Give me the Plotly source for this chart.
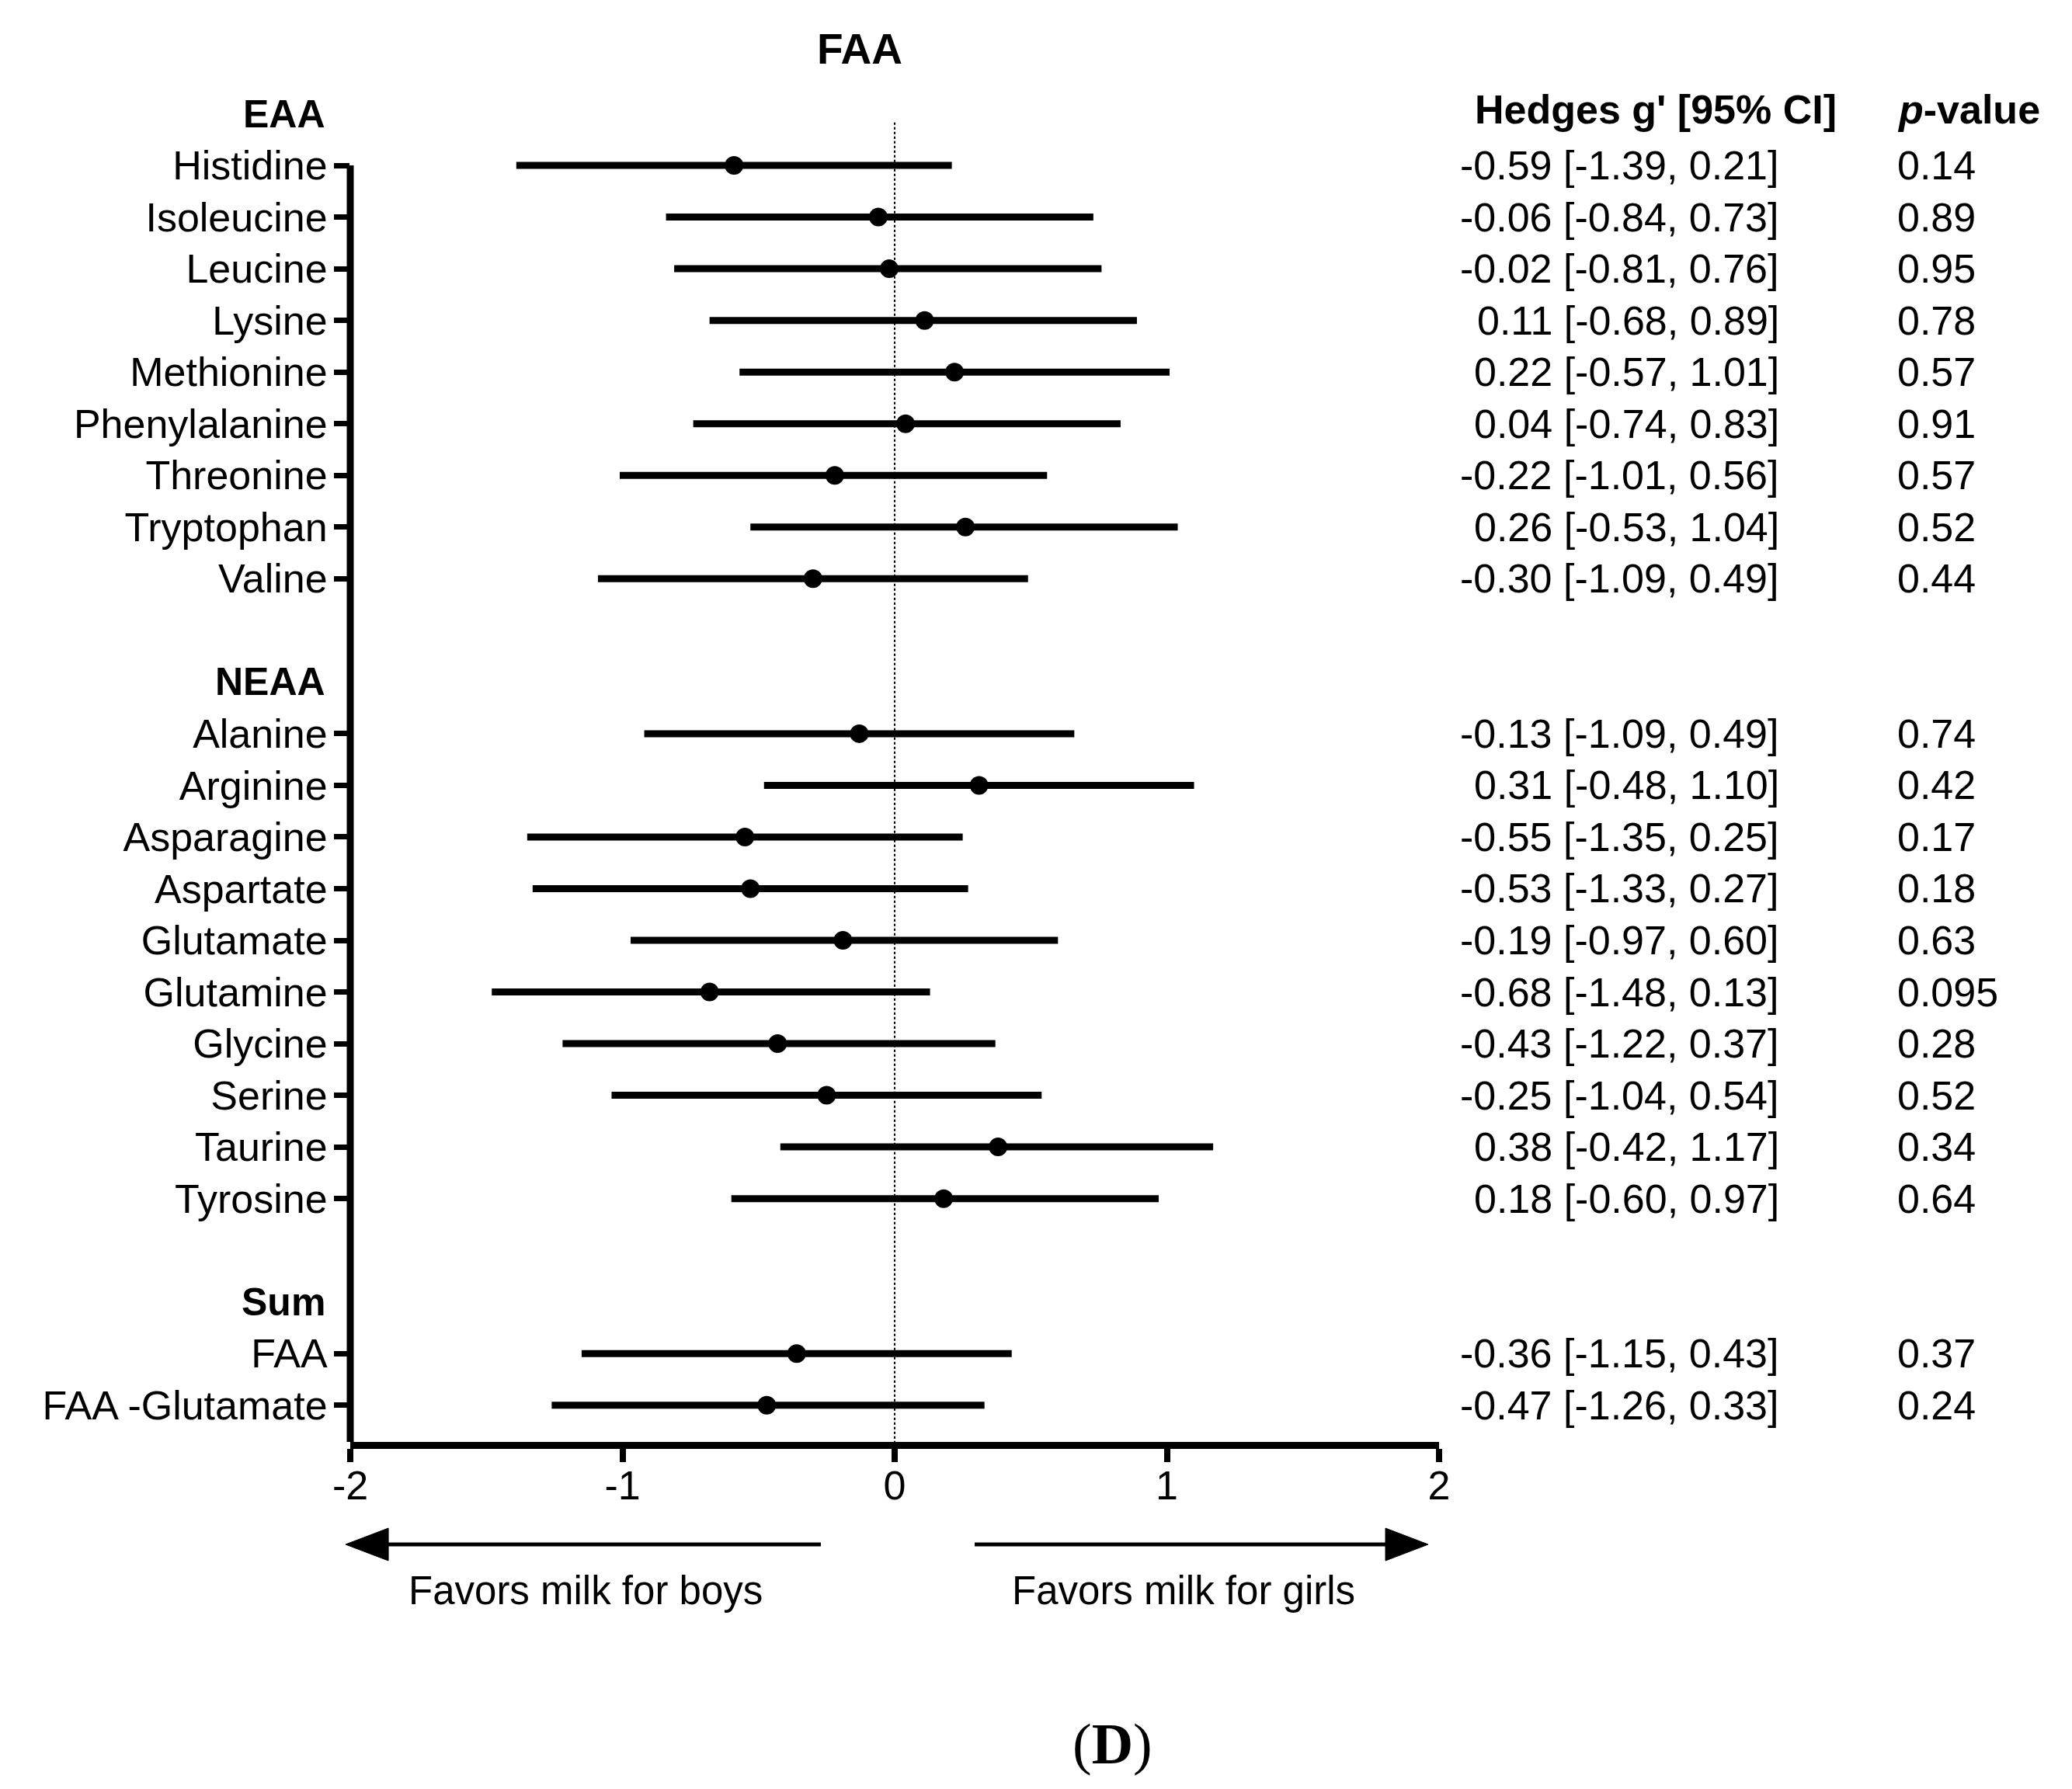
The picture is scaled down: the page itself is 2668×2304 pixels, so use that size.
import plotly.graph_objects as go

# amino acid groups (header, names)
group_names = ["EAA", "NEAA", "Sum"]
eaa = ["Histidine", "Isoleucine", "Leucine", "Lysine", "Methionine",
       "Phenylalanine", "Threonine", "Tryptophan", "Valine"]
neaa = ["Alanine", "Arginine", "Asparagine", "Aspartate", "Glutamate",
        "Glutamine", "Glycine", "Serine", "Taurine", "Tyrosine"]
sums = ["FAA", "FAA -Glutamate"]

# Hedges g' estimate and plotted 95% CI
est = [-0.59, -0.06, -0.02, 0.11, 0.22, 0.04, -0.22, 0.26, -0.30,
       -0.13, 0.31, -0.55, -0.53, -0.19, -0.68, -0.43, -0.25, 0.38, 0.18,
       -0.36, -0.47]
lo = [-1.39, -0.84, -0.81, -0.68, -0.57, -0.74, -1.01, -0.53, -1.09,
      -0.92, -0.48, -1.35, -1.33, -0.97, -1.48, -1.22, -1.04, -0.42, -0.60,
      -1.15, -1.26]
hi = [0.21, 0.73, 0.76, 0.89, 1.01, 0.83, 0.56, 1.04, 0.49,
      0.66, 1.10, 0.25, 0.27, 0.60, 0.13, 0.37, 0.54, 1.17, 0.97,
      0.43, 0.33]

# text columns as printed
ci_text = ["-0.59 [-1.39, 0.21]", "-0.06 [-0.84, 0.73]", "-0.02 [-0.81, 0.76]",
           "0.11 [-0.68, 0.89]", "0.22 [-0.57, 1.01]", "0.04 [-0.74, 0.83]",
           "-0.22 [-1.01, 0.56]", "0.26 [-0.53, 1.04]", "-0.30 [-1.09, 0.49]",
           "-0.13 [-1.09, 0.49]", "0.31 [-0.48, 1.10]", "-0.55 [-1.35, 0.25]",
           "-0.53 [-1.33, 0.27]", "-0.19 [-0.97, 0.60]", "-0.68 [-1.48, 0.13]",
           "-0.43 [-1.22, 0.37]", "-0.25 [-1.04, 0.54]", "0.38 [-0.42, 1.17]",
           "0.18 [-0.60, 0.97]",
           "-0.36 [-1.15, 0.43]", "-0.47 [-1.26, 0.33]"]
p_text = ["0.14", "0.89", "0.95", "0.78", "0.57", "0.91", "0.57", "0.52", "0.44",
          "0.74", "0.42", "0.17", "0.18", "0.63", "0.095", "0.28", "0.52", "0.34", "0.64",
          "0.37", "0.24"]

FONT = "Liberation Sans, Arial, sans-serif"
FS = 52

# row layout: header, items, blank row between groups
labels = []
rows = []
header_rows = []
r = -1
for grp in [eaa, neaa, sums]:
    header_rows.append(r)
    for i, name in enumerate(grp):
        labels.append(name)
        rows.append(r + 1 + i)
    r += len(grp) + 2

y_bottom = 24.71
y_top = -2

fig = go.Figure()

fig.add_trace(go.Scatter(
    x=est,
    y=rows,
    mode="markers",
    marker=dict(color="black", size=24),
    error_x=dict(
        type="data",
        symmetric=False,
        array=[h - e for h, e in zip(hi, est)],
        arrayminus=[e - l for e, l in zip(est, lo)],
        thickness=9,
        width=0,
        color="black",
    ),
    cliponaxis=False,
    showlegend=False,
))

shapes = [
    # left spine starting at the first row
    dict(type="line", xref="paper", yref="y", x0=0, x1=0, y0=0, y1=y_bottom,
         line=dict(color="black", width=9)),
    # dotted line at zero
    dict(type="line", xref="x", yref="y", x0=0, x1=0, y0=-0.83, y1=y_bottom,
         line=dict(color="black", width=2, dash="dot")),
    # arrows under the axis
    dict(type="line", xref="paper", yref="paper", x0=0.03, x1=0.4322, y0=-0.0743, y1=-0.0743,
         line=dict(color="black", width=5)),
    dict(type="path", xref="paper", yref="paper",
         path="M -0.0043,-0.0743 L 0.035,-0.0625 L 0.035,-0.0861 Z",
         fillcolor="black", line=dict(color="black", width=1)),
    dict(type="line", xref="paper", yref="paper", x0=0.5735, x1=0.955, y0=-0.0743, y1=-0.0743,
         line=dict(color="black", width=5)),
    dict(type="path", xref="paper", yref="paper",
         path="M 0.99,-0.0743 L 0.9508,-0.0625 L 0.9508,-0.0861 Z",
         fillcolor="black", line=dict(color="black", width=1)),
]

annotations = []
for name, hr in zip(group_names, header_rows):
    annotations.append(dict(
        x=0, xref="paper", y=hr, yref="y", text=f"<b>{name}</b>",
        xanchor="right", yanchor="middle", xshift=-30, showarrow=False,
        font=dict(family=FONT, size=50, color="black"),
    ))

for row, ci, p in zip(rows, ci_text, p_text):
    annotations.append(dict(
        x=1.3138, xref="paper", y=row, yref="y", text=ci,
        xanchor="right", yanchor="middle",
        showarrow=False, font=dict(family=FONT, size=FS, color="black"),
    ))
    annotations.append(dict(
        x=1.4194, xref="paper", y=row, yref="y", text=p,
        xanchor="left", yanchor="middle",
        showarrow=False, font=dict(family=FONT, size=FS, color="black"),
    ))

annotations += [
    dict(x=0.468, xref="paper", y=1.0096, yref="paper", text="<b>FAA</b>",
         xanchor="center", yanchor="middle", showarrow=False,
         font=dict(family=FONT, size=55, color="black")),
    dict(x=1.199, xref="paper", y=-1.08, yref="y", text="<b>Hedges g' [95% CI]</b>",
         xanchor="center", yanchor="middle",
         showarrow=False, font=dict(family=FONT, size=FS, color="black")),
    dict(x=1.4194, xref="paper", y=-1.08, yref="y", text="<b><i>p</i>-value</b>",
         xanchor="left", yanchor="middle",
         showarrow=False, font=dict(family=FONT, size=FS, color="black")),
    dict(x=0.2161, xref="paper", y=-0.1075, yref="paper", text="Favors milk for boys",
         xanchor="center", yanchor="middle",
         showarrow=False, font=dict(family=FONT, size=51, color="black")),
    dict(x=0.7653, xref="paper", y=-0.1075, yref="paper", text="Favors milk for girls",
         xanchor="center", yanchor="middle",
         showarrow=False, font=dict(family=FONT, size=51, color="black")),
    dict(x=0.700, xref="paper", y=-0.2189, yref="paper", text="(<b>D</b>)",
         xanchor="center", yanchor="middle",
         showarrow=False, font=dict(family="Liberation Serif, Times New Roman, serif",
                                    size=74, color="black")),
]

fig.update_layout(
    width=2668,
    height=2304,
    margin=dict(l=443, r=823, t=72, b=455),
    paper_bgcolor="white",
    plot_bgcolor="white",
    font=dict(family=FONT, size=FS, color="black"),
    shapes=shapes,
    annotations=annotations,
    xaxis=dict(
        range=[-2, 2],
        tickvals=[-2, -1, 0, 1, 2],
        ticktext=["-2", "-1", "0", "1", "2"],
        showline=True, linewidth=9, linecolor="black",
        ticks="outside", ticklen=17, tickwidth=8, tickcolor="black",
        ticklabelstandoff=-14,
        showgrid=False, zeroline=False,
        tickfont=dict(family=FONT, size=FS, color="black"),
    ),
    yaxis=dict(
        range=[y_bottom, y_top],
        tickvals=rows,
        ticktext=labels,
        showline=False,
        ticks="outside", ticklen=20, tickwidth=7, tickcolor="black",
        ticklabelstandoff=-2,
        showgrid=False, zeroline=False,
        tickfont=dict(family=FONT, size=FS, color="black"),
    ),
)

fig.write_html("out.html")
